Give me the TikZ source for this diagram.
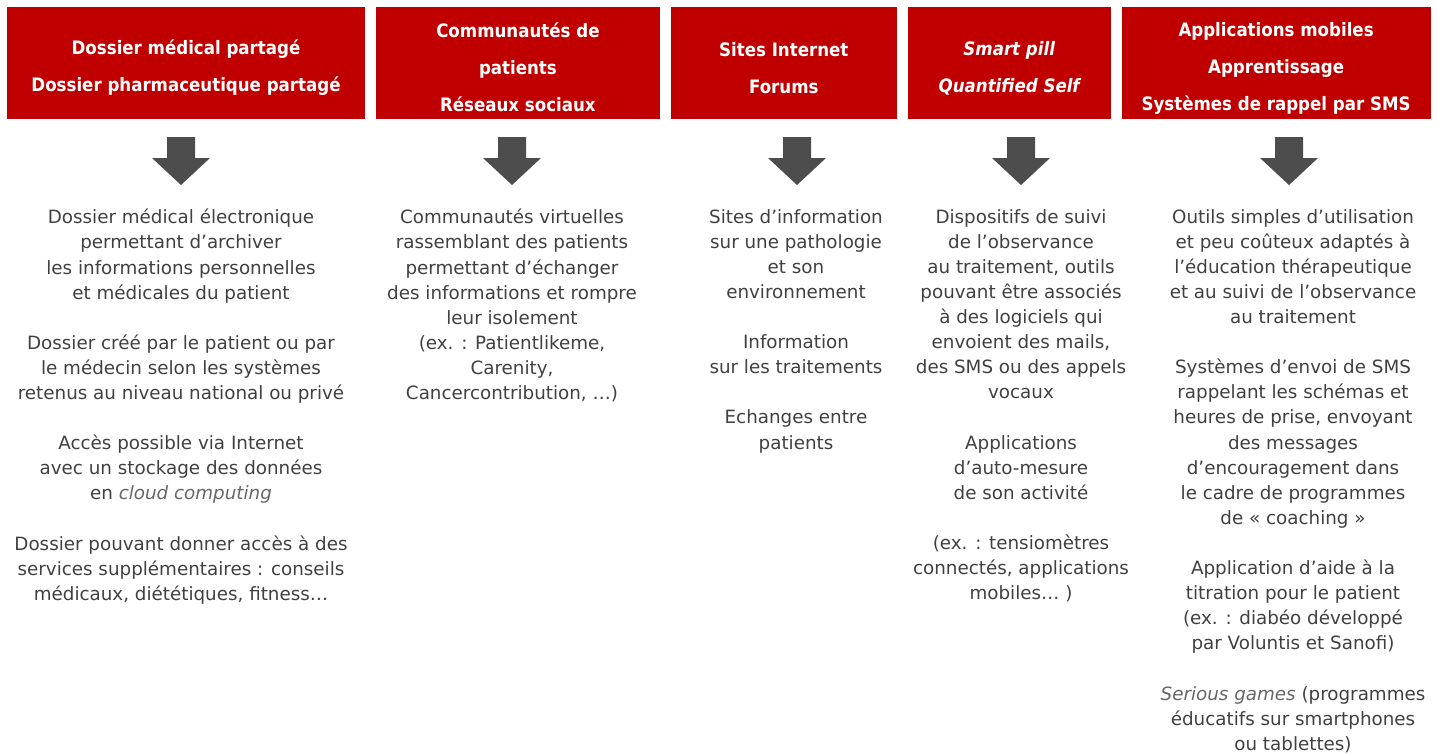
\documentclass[tikz,border=0pt]{standalone}
\usepackage{fontspec}
\setmainfont{DejaVu Sans}
\newfontfamily\headfont{DejaVu Sans Condensed}
\usetikzlibrary{positioning}

\definecolor{boxred}{HTML}{C00000}
\definecolor{arrowgray}{HTML}{4D4D4D}
\definecolor{txtgray}{HTML}{404040}
\definecolor{itgray}{HTML}{666666}

\tikzset{
  head/.style={fill=boxred, text=white, minimum height=112pt, align=center,
    inner sep=0pt, font=\headfont\bfseries\fontsize{18.5}{37}\selectfont},
  body/.style={text=txtgray, align=center, inner sep=0pt, anchor=north,
    font=\fontsize{18.3}{25.1}\selectfont},
}
\newcommand\gap{\\[25.1pt]}
\newcommand\hstrut{\rule{0pt}{24pt}}
\newcommand\itg[1]{{\color{itgray}\itshape #1}}

\begin{document}
\begin{tikzpicture}[x=1pt,y=-1pt,node distance=10.5pt]
        \useasboundingbox (0,0) rectangle (1437,753);
        % headers
        \node[head, minimum width=358pt] (dmp) at (186,63) {\hstrut Dossier médical partagé\\Dossier pharmaceutique partagé};
        \node[head, minimum width=284pt, right=of dmp] (commu) {\hstrut Communautés de\\patients\\Réseaux sociaux};
        \node[head, minimum width=226pt, right=of commu] (sites) {\hstrut Sites Internet\\Forums};
        \node[head, minimum width=203pt, right=of sites] (pill) {\hstrut\itshape Smart pill\\\itshape Quantified Self};
        \node[head, minimum width=309pt, right=of pill] (apps) {\hstrut Applications mobiles\\Apprentissage\\Systèmes de rappel par SMS};
        % arrows
        \foreach \x in {181,512,797,1021,1289}
            \fill[arrowgray] (\x-14,137) -- (\x+14,137) -- (\x+14,158) -- (\x+29,158) -- (\x,185) -- (\x-29,158) -- (\x-14,158) -- cycle;
        % texts
        \node[body] (tdmp) at (181,209) {Dossier médical électronique\\permettant d’archiver\\les informations personnelles\\et médicales du patient\gap
            Dossier créé par le patient ou par\\le médecin selon les systèmes\\retenus au niveau national ou privé\gap
            Accès possible via Internet\\avec un stockage des données\\en \itg{cloud computing}\gap
            Dossier pouvant donner accès à des\\services supplémentaires : conseils\\médicaux, diététiques, fitness…};
        \node[body] (tcommu) at (512,209) {Communautés virtuelles\\rassemblant des patients\\permettant d’échanger\\des informations et rompre\\leur isolement\\(ex. : Patientlikeme,\\Carenity,\\Cancercontribution, …)};
        \node[body] (tsites) at (796,209) {Sites d’information\\sur une pathologie\\et son\\environnement\gap
            Information\\sur les traitements\gap
            Echanges entre\\patients};
        \node[body] (tpill) at (1021,209) {Dispositifs de suivi\\de l’observance\\au traitement, outils\\pouvant être associés\\à des logiciels qui\\envoient des mails,\\des SMS ou des appels\\vocaux\gap
            Applications\\d’auto-mesure\\de son activité\gap
            (ex. : tensiomètres\\connectés, applications\\mobiles… )};
        \node[body] (tapps) at (1293,209) {Outils simples d’utilisation\\et peu coûteux adaptés à\\l’éducation thérapeutique\\et au suivi de l’observance\\au traitement\gap
            Systèmes d’envoi de SMS\\rappelant les schémas et\\heures de prise, envoyant\\des messages\\d’encouragement dans\\le cadre de programmes\\de « coaching »\gap
            Application d’aide à la\\titration pour le patient\\(ex. : diabéo développé\\par Voluntis et Sanofi)\gap
            \itg{Serious games} (programmes\\éducatifs sur smartphones\\ou tablettes)};
    \end{tikzpicture}
\end{document}
